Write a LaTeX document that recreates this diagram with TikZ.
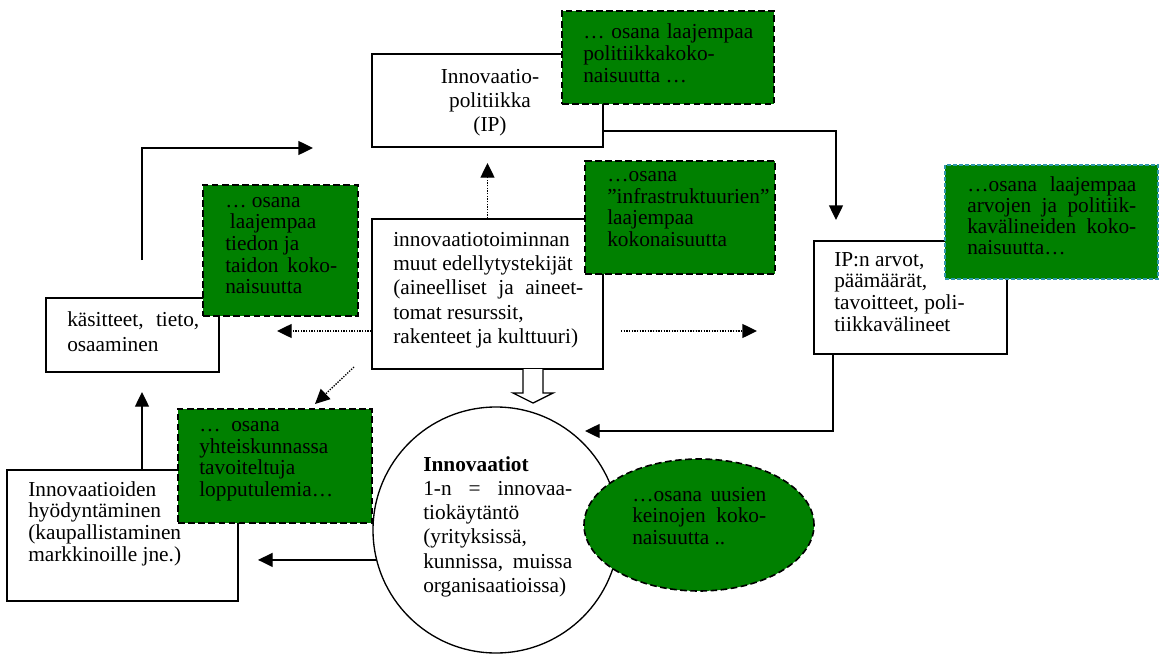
\documentclass[tikz,border=0pt]{standalone}
\usepackage{fontspec}
\setmainfont{Liberation Serif}
\usetikzlibrary{arrows.meta,shapes.geometric}
\newdimen\pu \pu=0.75pt
\newcommand\spr[2]{\makebox[#1\pu][s]{#2}}
\definecolor{wgreen}{HTML}{008000}
\definecolor{tealdash}{RGB}{48,150,170}
\tikzset{
  sz/.style 2 args={minimum width=#1*0.75pt, minimum height=#2*0.75pt, inner sep=0pt},
  wbox/.style={draw=black, line width=1pt, fill=white, rectangle},
  gbox/.style={draw=black, line width=1.2pt, fill=wgreen, dash pattern=on 5pt off 2.6pt, rectangle},
  txt/.style={inner sep=0pt, anchor=north west, align=left, execute at begin node=\rule{0pt}{12pt}},
  tight/.style={font=\fontsize{16}{16.2}\selectfont},
  loose/.style={font=\fontsize{16}{18.2}\selectfont},
  arr/.style={line width=1pt, -{Triangle[length=11pt,width=10.5pt]}},
  darr/.style={arr, dash pattern=on 1pt off 1pt},
}
\begin{document}
\begin{tikzpicture}[x=0.75pt, y=-0.75pt]
\useasboundingbox (0,0) rectangle (1160,667);

% white boxes
\node[wbox, sz={231}{93}] (ip) at (487.5,100.5) {};
\node[wbox, sz={173}{74}] (kas) at (132.5,335) {};
\node[wbox, sz={231}{150}] (ctr) at (487.5,294) {};
\node[wbox, sz={193}{113}] (ipa) at (910.5,297.5) {};
\node[wbox, sz={231}{131}] (hyo) at (122.5,535.5) {};
\node[draw=black, line width=1pt, fill=white, circle, minimum size=246*0.75pt, inner sep=0pt] (circ) at (496,530) {};

% green boxes
\node[gbox, sz={212}{93}] (topg) at (668,57.5) {};
\node[gbox, sz={155}{131}] (leftg) at (280.5,250.5) {};
\node[gbox, sz={190}{113}] (infg) at (680,217.5) {};
\node[gbox, sz={213}{114}, draw=tealdash, dash pattern=on 3pt off 1.5pt] (rg) at (1051.5,222) {};
\node[gbox, sz={194}{114}] (yg) at (275,466) {};
\node[gbox, ellipse, sz={230}{132}] (ell) at (699,525) {};

% texts
\node[txt, loose, anchor=north, align=center] (ip-t) at (490,69) {Innovaatio-\\politiikka\\(IP)};
\node[txt, font=\fontsize{16}{16.5}\selectfont] (topg-t) at (583,23) {\spr{170}{… osana laajempaa}\\politiikkakoko-\\naisuutta …};
\node[txt, tight] (leftg-t) at (225,197) {… osana\\\hspace*{3.5pt}laajempaa\\tiedon ja\\\spr{112}{taidon koko-}\\naisuutta};
\node[txt, loose] (ctr-t) at (393,232) {innovaatiotoiminnan\\muut edellytystekijät\\\spr{190}{(aineelliset ja aineet-}\\tomat resurssit,\\rakenteet ja kulttuuri)};
\node[txt, font=\fontsize{16}{16.3}\selectfont] (infg-t) at (607,171) {…osana\\”infrastruktuurien”\\laajempaa\\kokonaisuutta};
\node[txt, font=\fontsize{16}{18.7}\selectfont] (kas-t) at (67,311) {\spr{132}{käsitteet, tieto,}\\osaaminen};
\node[txt, tight] (ipa-t) at (834,252) {IP:n arvot,\\päämäärät,\\tavoitteet, poli-\\tiikkavälineet};
\node[txt, font=\fontsize{16}{15.9}\selectfont] (rg-t) at (967,176) {\spr{169}{…osana laajempaa}\\\spr{169}{arvojen ja politiik-}\\\spr{169}{kavälineiden koko-}\\naisuutta…};
\node[txt, font=\fontsize{16}{16.3}\selectfont] (yg-t) at (199,421) {…\ \ osana\\yhteiskunnassa\\tavoiteltuja\\lopputulemia…};
\node[txt, font=\fontsize{16}{16.3}\selectfont] (hyo-t) at (28,481) {Innovaatioiden\\hyödyntäminen\\(kaupallistaminen\\markkinoille jne.)};
\node[txt, loose] (circ-t) at (423,456) {\textbf{Innovaatiot}\\\spr{149}{1-n = innovaa-}\\tiokäytäntö\\(yrityksissä,\\\spr{149}{kunnissa, muissa}\\organisaatioissa)};
\node[txt, tight] (ell-t) at (632,487) {\spr{134}{…osana uusien}\\\spr{134}{keinojen koko-}\\naisuutta ..};

% coordinates for free ends
\coordinate (a1) at (142,260);
\coordinate (t1) at (313,148);
\coordinate (b2) at (836,131);
\coordinate (t2) at (836,220);
\coordinate (t3) at (487.5,163);
\coordinate (t4) at (277,331);
\coordinate (s5) at (621,331);
\coordinate (t5) at (757,331);
\coordinate (s6) at (354,367);
\coordinate (t6) at (315,404);
\coordinate (b8) at (833,431);
\coordinate (t8) at (585,431);
\coordinate (t9) at (258,560);
\coordinate (t10) at (142,392);
\coordinate (h0) at (533,369);

% connectors
\draw[arr] (a1) |- (t1);
\draw[arr] (ip.east |- b2) -- (b2) -- (t2);
\draw[darr] (ctr.north) -- (t3);
\draw[darr] (ctr.west |- t4) -- (t4);
\draw[darr] (s5) -- (t5);
\draw[darr] (s6) -- (t6);
\draw[arr] (ipa.south -| b8) -- (b8) -- (t8);
\draw[arr] (circ.194) -- (t9 |- circ.194);
\draw[arr] (hyo.north -| t10) -- (t10);
\draw[line width=1pt, fill=white] (h0) ++(-10,0) -- ++(0,24) -- ++(-10,0) -- ++(20,10) -- ++(20,-10) -- ++(-10,0) -- ++(0,-24);
\end{tikzpicture}
\end{document}
